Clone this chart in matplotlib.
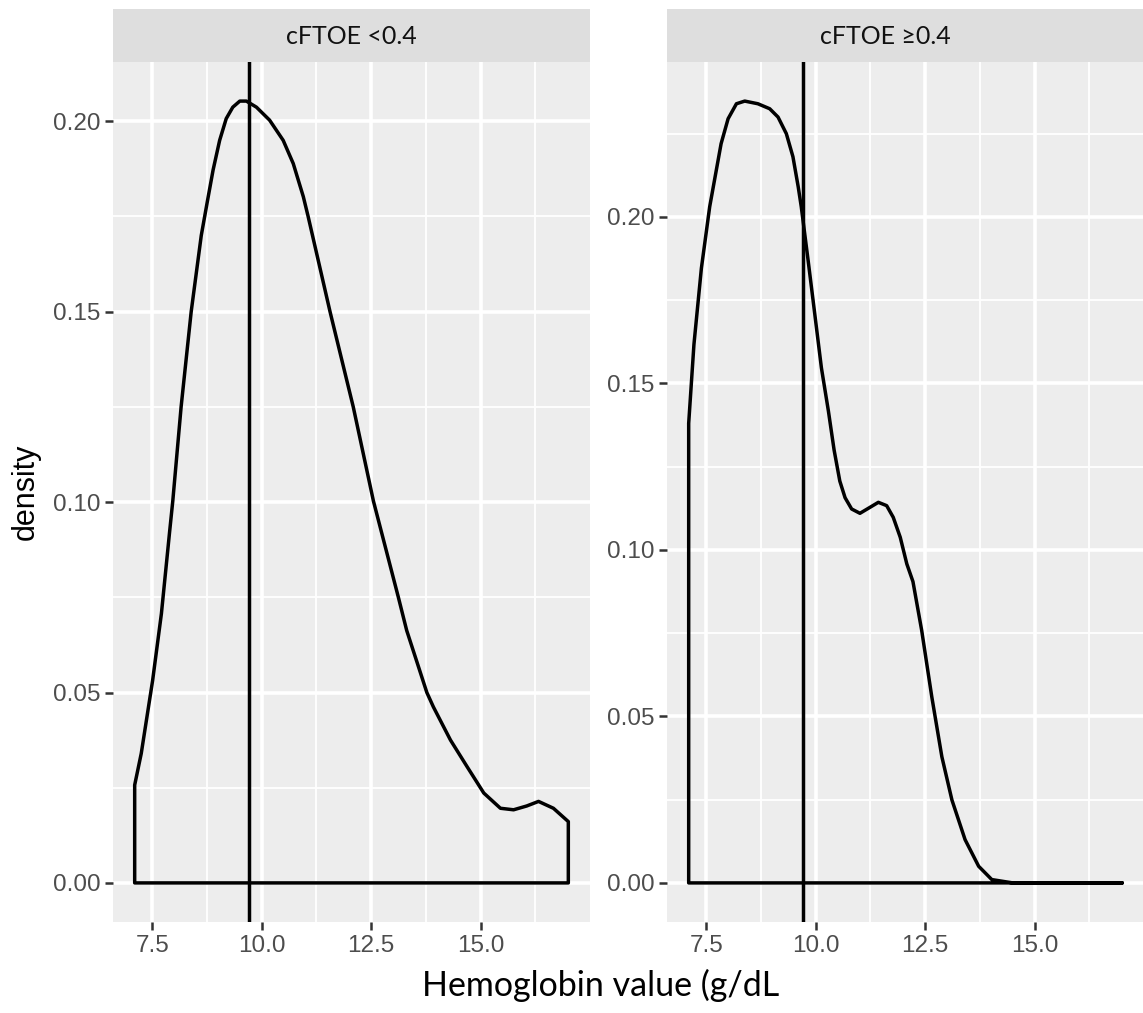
import matplotlib
matplotlib.use("Agg")
import matplotlib.pyplot as plt
from matplotlib.ticker import FixedLocator

# --- data ---
panel_labels = ["cFTOE <0.4", "cFTOE \u22650.4"]
hb_cutoff = 9.7

low_hb = [7.10, 7.25, 7.51, 7.71, 7.90, 7.97, 8.16, 8.39, 8.62, 8.76, 8.89,
          9.04, 9.19, 9.34, 9.50, 9.65, 9.88, 10.18, 10.49, 10.72, 10.95,
          11.06, 11.56, 12.09, 12.55, 13.12, 13.31, 13.77, 13.92, 14.31,
          14.69, 15.07, 15.45, 15.75, 16.05, 16.32, 16.66, 17.00]
low_density = [0.0257, 0.0340, 0.0532, 0.0707, 0.0925, 0.1003, 0.1250, 0.1500,
               0.1700, 0.1790, 0.1872, 0.1950, 0.2007, 0.2037, 0.2053, 0.2053,
               0.2037, 0.2003, 0.1950, 0.1889, 0.1802, 0.1750, 0.1500, 0.1250,
               0.1003, 0.0750, 0.0663, 0.0500, 0.0462, 0.0375, 0.0305, 0.0236,
               0.0196, 0.0192, 0.0202, 0.0214, 0.0196, 0.0161]

high_hb = [7.10, 7.22, 7.39, 7.58, 7.69, 7.84, 8.00, 8.19, 8.38, 8.68, 8.95,
           9.14, 9.33, 9.48, 9.60, 9.67, 9.83, 9.98, 10.13, 10.29, 10.42,
           10.55, 10.67, 10.82, 11.01, 11.24, 11.43, 11.62, 11.77, 11.93,
           12.08, 12.22, 12.42, 12.65, 12.88, 13.11, 13.41, 13.72, 14.02,
           14.50, 17.00]
high_density = [0.1380, 0.1617, 0.1846, 0.2031, 0.2111, 0.2220, 0.2295, 0.2340,
                0.2348, 0.2340, 0.2325, 0.2300, 0.2250, 0.2181, 0.2091, 0.2031,
                0.1866, 0.1707, 0.1547, 0.1417, 0.1300, 0.1207, 0.1157, 0.1123,
                0.1110, 0.1128, 0.1143, 0.1133, 0.1098, 0.1038, 0.0958, 0.0905,
                0.0758, 0.0559, 0.0379, 0.0249, 0.0130, 0.0050, 0.0010, 0.0000,
                0.0000]

x_ticks = [7.5, 10.0, 12.5, 15.0]
x_minor = [8.75, 11.25, 13.75, 16.25]
y_ticks = [0.00, 0.05, 0.10, 0.15, 0.20]
y_minor = [0.025, 0.075, 0.125, 0.175, 0.225]

PANEL_BG = "#EDEDED"
STRIP_BG = "#DEDEDE"
TICK_FONT = "Liberation Sans"
TITLE_FONT = "Lato"
LINE_W = 2.5

W, H = 1143, 1013
fig = plt.figure(figsize=(W / 100, H / 100), dpi=100)


def expand(lo, hi, frac=0.05):
    pad = (hi - lo) * frac
    return lo - pad, hi + pad


def draw_panel(rect, xs, ys, label, label_x):
    ax = fig.add_axes(rect)
    ax.set_facecolor(PANEL_BG)
    for s in ax.spines.values():
        s.set_visible(False)

    # closed outline like geom_density (base + sides)
    ax.fill([xs[0]] + xs + [xs[-1]], [0] + ys + [0], fill=False,
            edgecolor="black", linewidth=LINE_W, joinstyle="round", zorder=3)
    ax.axvline(hb_cutoff, color="black", linewidth=LINE_W, zorder=4)

    ax.set_xlim(*expand(min(xs), max(xs)))
    ax.set_ylim(*expand(0, max(ys)))

    ax.xaxis.set_major_locator(FixedLocator(x_ticks))
    ax.xaxis.set_minor_locator(FixedLocator(x_minor))
    ax.yaxis.set_major_locator(FixedLocator(y_ticks))
    ax.yaxis.set_minor_locator(FixedLocator(y_minor))
    ax.set_xticklabels([f"{v:.1f}" for v in x_ticks])
    ax.set_yticklabels([f"{v:.2f}" for v in y_ticks])

    ax.set_axisbelow(True)
    ax.grid(which="major", color="white", linewidth=2.6)
    ax.grid(which="minor", color="white", linewidth=1.3)
    ax.tick_params(which="major", length=5.5, width=1.8, color="#333333",
                   labelcolor="#4D4D4D", labelsize=17.5, pad=3.5)
    ax.tick_params(which="minor", length=0)
    for t in ax.get_xticklabels() + ax.get_yticklabels():
        t.set_fontfamily(TICK_FONT)

    # facet strip
    l, b, w, h = rect
    sax = fig.add_axes([l, b + h, w, 53 / H])
    sax.set_facecolor(STRIP_BG)
    sax.set_xticks([])
    sax.set_yticks([])
    for s in sax.spines.values():
        s.set_visible(False)
    fig.text(label_x / W, 1 - 36 / H, label, ha="center", va="center",
             fontsize=18, color="#111111", family=[TITLE_FONT, "DejaVu Sans"])
    return ax


panel_w = 477 / W
panel_b = 1 - 922 / H
panel_h = 860 / H

draw_panel([113 / W, panel_b, panel_w, panel_h], low_hb, low_density,
           panel_labels[0], 351)
draw_panel([667 / W, panel_b, panel_w, panel_h], high_hb, high_density,
           panel_labels[1], 885)

fig.text(26 / W, 1 - 492 / H, "density", rotation=90, ha="center",
         va="center", fontsize=22, family=TICK_FONT, color="black")
fig.text(601 / W, 1 - 985 / H, "Hemoglobin value (g/dL", ha="center",
         va="center", fontsize=24.5, family=TITLE_FONT, color="black")

fig.savefig("out.png", dpi=100)
